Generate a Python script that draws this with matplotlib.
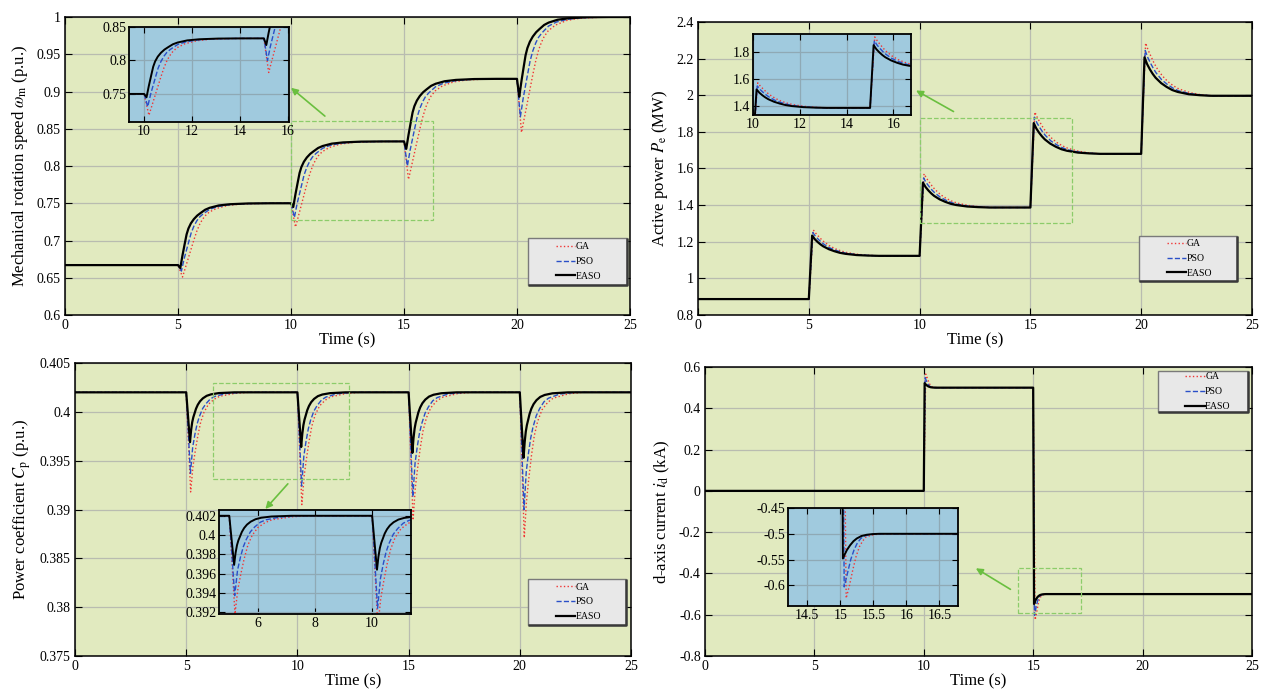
import numpy as np
import matplotlib.pyplot as plt
from matplotlib.patches import Rectangle
from matplotlib.ticker import FuncFormatter

plt.rcParams["font.family"] = ["Liberation Serif", "DejaVu Serif"]
plt.rcParams["mathtext.fontset"] = "stix"

ALGOS = ["GA", "PSO", "EASO"]
STYLE = {"GA":   dict(color="#f03535", ls=":",  lw=1.0),
         "PSO":  dict(color="#2a4fc8", ls="--", lw=1.0),
         "EASO": dict(color="black",   ls="-",  lw=1.6)}

# ---- mechanical rotation speed (p.u.) ----
speed_steps  = [5, 10, 15, 20]
speed_levels = [0.667, 0.750, 0.833, 0.917, 1.000]
speed_dip    = {"GA":   [0.651, 0.718, 0.782, 0.845],
                "PSO":  [0.659, 0.731, 0.800, 0.866],
                "EASO": [0.663, 0.745, 0.823, 0.893]}
speed_delay  = {"GA": 0.20, "PSO": 0.15, "EASO": 0.10}
speed_tau    = {"GA":   [0, 0.15, 0.3, 0.4, 0.5, 0.63, 0.76, 0.88, 1.0, 1.18, 1.5, 2.0, 2.6, 3.5, 4.5],
                "PSO":  [0, 0.12, 0.25, 0.34, 0.43, 0.55, 0.68, 0.8, 0.95, 1.25, 1.6, 2.1, 2.8, 3.7, 4.3],
                "EASO": [0, 0.05, 0.1, 0.15, 0.2, 0.28, 0.36, 0.47, 0.6, 0.75, 0.9, 1.1, 1.3, 1.7, 2.2, 3.0, 4.0]}
speed_rem    = {"GA":   [1, 0.85, 0.70, 0.60, 0.50, 0.38, 0.284, 0.22, 0.17, 0.12, 0.07, 0.03, 0.01, 0.002, 0],
                "PSO":  [1, 0.82, 0.66, 0.55, 0.44, 0.34, 0.26, 0.205, 0.16, 0.09, 0.05, 0.022, 0.006, 0.001, 0],
                "EASO": [1, 0.90, 0.80, 0.71, 0.62, 0.48, 0.39, 0.31, 0.245, 0.19, 0.15, 0.10, 0.07, 0.034, 0.015, 0.003, 0]}

# ---- active power (MW) ----
power_steps  = [5, 10, 15, 20]
power_levels = [0.887, 1.123, 1.387, 1.680, 1.997]
power_peak   = {"GA":   [1.265, 1.571, 1.908, 2.285],
                "PSO":  [1.250, 1.548, 1.880, 2.245],
                "EASO": [1.234, 1.523, 1.848, 2.207]}
power_delay  = {"GA": 0.20, "PSO": 0.18, "EASO": 0.15}
power_tau    = {"GA":   [0, 0.12, 0.25, 0.37, 0.5, 0.75, 1.0, 1.25, 1.5, 2.0, 2.5, 3.0],
                "PSO":  [0, 0.12, 0.25, 0.37, 0.5, 0.75, 1.0, 1.25, 1.5, 2.0, 2.5, 3.0],
                "EASO": [0, 0.12, 0.25, 0.37, 0.5, 0.75, 1.0, 1.25, 1.5, 2.0, 2.5, 3.0]}
power_rem    = {"GA":   [1, 0.86, 0.74, 0.63, 0.53, 0.38, 0.27, 0.19, 0.13, 0.06, 0.02, 0],
                "PSO":  [1, 0.84, 0.71, 0.60, 0.50, 0.35, 0.25, 0.17, 0.11, 0.05, 0.017, 0],
                "EASO": [1, 0.82, 0.68, 0.57, 0.47, 0.33, 0.23, 0.15, 0.10, 0.04, 0.015, 0]}

# ---- power coefficient Cp (p.u.) ----
cp_steps  = [5, 10, 15, 20]
cp_levels = [0.402, 0.402, 0.402, 0.402, 0.402]
cp_dip    = {"GA":   [0.3918, 0.3905, 0.3889, 0.3871],
             "PSO":  [0.3937, 0.3924, 0.3913, 0.3900],
             "EASO": [0.3969, 0.3964, 0.3958, 0.3953]}
cp_delay  = {"GA": 0.20, "PSO": 0.19, "EASO": 0.17}
cp_tau    = {"GA":   [0, 0.1, 0.2, 0.32, 0.45, 0.6, 0.8, 1.05, 1.3, 2.0, 2.6],
             "PSO":  [0, 0.1, 0.2, 0.3, 0.4, 0.55, 0.7, 0.9, 1.1, 1.6, 2.3],
             "EASO": [0, 0.05, 0.1, 0.15, 0.2, 0.27, 0.35, 0.45, 0.58, 0.75, 0.95, 1.3, 2.0]}
cp_rem    = {"GA":   [1, 0.75, 0.60, 0.44, 0.30, 0.20, 0.12, 0.07, 0.04, 0.01, 0],
             "PSO":  [1, 0.68, 0.52, 0.39, 0.30, 0.20, 0.14, 0.08, 0.05, 0.015, 0],
             "EASO": [1, 0.76, 0.60, 0.50, 0.43, 0.33, 0.25, 0.18, 0.12, 0.07, 0.04, 0.015, 0]}

# ---- d-axis current (kA) ----
id_steps  = [10, 15]
id_levels = [0.0, 0.5, -0.5]
id_peak   = {"GA":   [0.566, -0.625],
             "PSO":  [0.548, -0.603],
             "EASO": [0.522, -0.548]}
id_delay  = {"GA": 0.09, "PSO": 0.06, "EASO": 0.04}
id_tau    = {"GA":   [0, 0.05, 0.1, 0.15, 0.2, 0.25, 0.3, 0.37, 0.45, 0.6],
             "PSO":  [0, 0.05, 0.1, 0.15, 0.2, 0.25, 0.3, 0.37, 0.45, 0.6],
             "EASO": [0, 0.03, 0.06, 0.11, 0.16, 0.21, 0.28, 0.36, 0.45, 0.55]}
id_rem    = {"GA":   [1, 0.80, 0.56, 0.35, 0.20, 0.11, 0.05, 0.025, 0.01, 0],
             "PSO":  [1, 0.74, 0.48, 0.30, 0.17, 0.09, 0.045, 0.02, 0.008, 0],
             "EASO": [1, 0.82, 0.66, 0.46, 0.30, 0.19, 0.09, 0.04, 0.012, 0]}


def trace(steps, levels, ext, delay, tau, rem):
    t, y = [0.0], [levels[0]]
    for k, t0 in enumerate(steps):
        t.append(t0)
        y.append(levels[k])
        for dt, r in zip(tau, rem):
            t.append(t0 + delay + dt)
            y.append(levels[k + 1] + (ext[k] - levels[k + 1]) * r)
    t.append(25.0)
    y.append(levels[-1])
    return np.array(t), np.array(y)


fmt = FuncFormatter(lambda v, p: f"{round(v, 6) + 0.0:g}")


def draw_lines(ax, curves, inset=False):
    handles = []
    for name in ALGOS:
        t, y = curves[name]
        st = dict(STYLE[name])
        if inset and name == "EASO":
            st["lw"] = 1.4
        h, = ax.plot(t, y, label=name, **st)
        handles.append(h)
    return handles


def setup(ax, ylim, yticks, ylabel):
    ax.set_facecolor("#e1eabf")
    ax.set_xlim(0, 25)
    ax.set_ylim(*ylim)
    ax.set_xticks(np.arange(0, 26, 5))
    ax.set_yticks(yticks)
    ax.yaxis.set_major_formatter(fmt)
    ax.grid(True, color="#b9bcb0", lw=0.9)
    ax.set_axisbelow(True)
    ax.tick_params(direction="in", top=True, right=True, labelsize=10, length=5, pad=3)
    for s in ax.spines.values():
        s.set_linewidth(1.1)
    ax.set_xlabel("Time (s)", fontsize=12, labelpad=0)
    ax.set_ylabel(ylabel, fontsize=12, labelpad=5)


def legend_box(ax, handles, rect):
    x, y, w, h = rect
    ax.add_patch(Rectangle((x, y), w, h, transform=ax.transAxes, facecolor="#e8e8e8",
                           edgecolor="#7a7a7a", lw=1.0, zorder=5))
    # darker right/bottom edge
    ax.plot([x, x + w, x + w], [y, y, y + h], transform=ax.transAxes,
            color="#3a3a3a", lw=1.8, zorder=5, solid_capstyle="butt")
    ax.legend(handles=handles, loc="center left", bbox_to_anchor=(x + 0.05, y + h / 2),
              frameon=False, fontsize=7, handlelength=2.0, handletextpad=0.05,
              labelspacing=0.6, borderpad=0, borderaxespad=0).set_zorder(6)


def inset(fig, box, curves, xlim, ylim, xticks, yticks):
    ia = fig.add_axes(box)
    ia.set_facecolor("#a0cade")
    draw_lines(ia, curves, inset=True)
    ia.set_xlim(*xlim)
    ia.set_ylim(*ylim)
    ia.set_xticks(xticks)
    ia.set_yticks(yticks)
    ia.xaxis.set_major_formatter(fmt)
    ia.yaxis.set_major_formatter(fmt)
    ia.grid(True, color="#8fa9b5", lw=0.9)
    ia.set_axisbelow(True)
    ia.tick_params(direction="in", top=True, right=True, labelsize=10, length=4, pad=2)
    for s in ia.spines.values():
        s.set_linewidth(1.3)
    return ia


def mark(ax, rect, arrow_from, arrow_to):
    (x0, x1), (y0, y1) = rect
    ax.add_patch(Rectangle((x0, y0), x1 - x0, y1 - y0, fill=False, ls="--",
                           edgecolor="#8ccc6a", lw=0.9, zorder=4))
    ax.annotate("", xy=arrow_to, xytext=arrow_from,
                arrowprops=dict(arrowstyle="-|>", color="#6abf3f", lw=1.2,
                                mutation_scale=10, shrinkA=0, shrinkB=0))


fig = plt.figure(figsize=(12.65, 6.89), dpi=100)

# top-left: speed
speed = {a: trace(speed_steps, speed_levels, speed_dip[a], speed_delay[a],
                  speed_tau[a], speed_rem[a]) for a in ALGOS}
ax1 = fig.add_axes([0.0514, 0.5428, 0.4466, 0.4325])
h = draw_lines(ax1, speed)
setup(ax1, (0.6, 1.0), np.arange(0.6, 1.001, 0.05),
      r"Mechanical rotation speed $\omega_{\rm m}$ (p.u.)")
legend_box(ax1, h, (0.819, 0.101, 0.176, 0.157))
mark(ax1, ((10.0, 16.3), (0.7275, 0.86)), (11.5, 0.867), (10.0, 0.905))
inset(fig, [0.102, 0.8229, 0.1265, 0.1379], speed, (9.37, 16.05), (0.708, 0.85),
      [10, 12, 14, 16], [0.75, 0.8, 0.85])

# top-right: active power
power = {a: trace(power_steps, power_levels, power_peak[a], power_delay[a],
                  power_tau[a], power_rem[a]) for a in ALGOS}
ax2 = fig.add_axes([0.5518, 0.5428, 0.4379, 0.4253])
h = draw_lines(ax2, power)
setup(ax2, (0.8, 2.4), np.arange(0.8, 2.401, 0.2), r"Active power $P_{\rm e}$ (MW)")
legend_box(ax2, h, (0.796, 0.116, 0.177, 0.154))
mark(ax2, ((10.02, 16.88), (1.305, 1.875)), (11.53, 1.911), (9.84, 2.026))
inset(fig, [0.5953, 0.8331, 0.1249, 0.1176], power, (10.0, 16.75), (1.335, 1.93),
      [10, 12, 14, 16], [1.4, 1.6, 1.8])

# bottom-left: power coefficient
cp = {a: trace(cp_steps, cp_levels, cp_dip[a], cp_delay[a],
               cp_tau[a], cp_rem[a]) for a in ALGOS}
ax3 = fig.add_axes([0.0593, 0.0479, 0.4395, 0.4252])
h = draw_lines(ax3, cp)
setup(ax3, (0.375, 0.405), np.arange(0.375, 0.4051, 0.005),
      r"Power coefficient $C_{\rm p}$ (p.u.)")
legend_box(ax3, h, (0.815, 0.106, 0.176, 0.157))
mark(ax3, ((6.21, 12.32), (0.39311, 0.40295)), (9.57, 0.39263), (8.56, 0.39006))
inset(fig, [0.1731, 0.1089, 0.1518, 0.1509], cp, (4.64, 11.36), (0.3918, 0.4026),
      [6, 8, 10], np.arange(0.392, 0.4021, 0.002))

# bottom-right: d-axis current
idc = {a: trace(id_steps, id_levels, id_peak[a], id_delay[a],
                id_tau[a], id_rem[a]) for a in ALGOS}
ax4 = fig.add_axes([0.5573, 0.0479, 0.4324, 0.4194])
h = draw_lines(ax4, idc)
setup(ax4, (-0.8, 0.6), np.arange(-0.8, 0.601, 0.2), r"d-axis current $i_{\rm d}$ (kA)")
legend_box(ax4, h, (0.828, 0.844, 0.165, 0.142))
mark(ax4, ((14.29, 17.2), (-0.59, -0.375)), (13.96, -0.477), (12.38, -0.375))
inset(fig, [0.6229, 0.1205, 0.1344, 0.1422], idc, (14.21, 16.78), (-0.64, -0.45),
      [14.5, 15, 15.5, 16, 16.5], [-0.6, -0.55, -0.5, -0.45])

fig.savefig("out.png", dpi=100)
